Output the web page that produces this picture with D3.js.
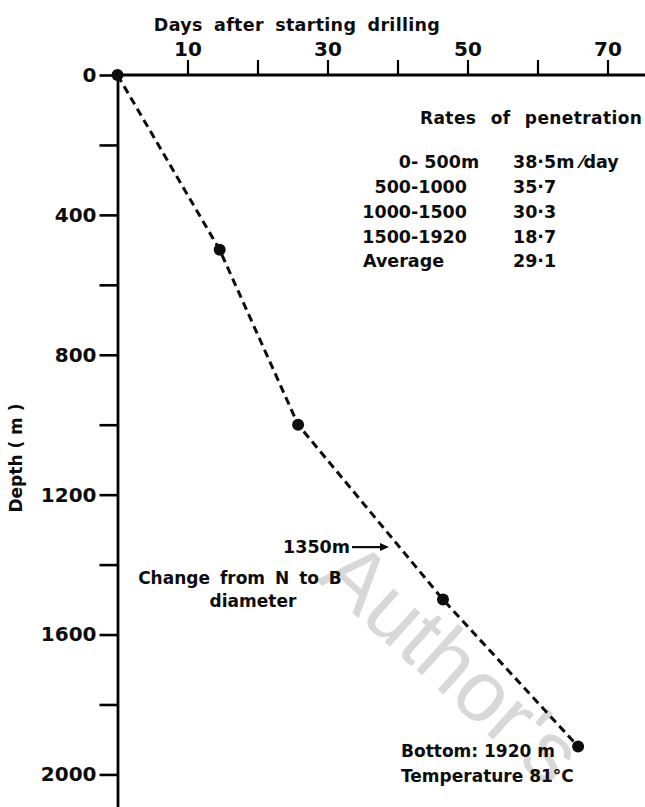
<!DOCTYPE html>
<html>
<head>
<meta charset="utf-8">
<script src="https://cdn.jsdelivr.net/npm/d3@7"></script>
<style>
	body {margin:0; background:#fff;}
	svg text {font-family:"DejaVu Sans", sans-serif; font-weight:bold; fill:#0d0d0d;}
</style>
</head>
<body>
<svg id="chart" width="645" height="807"></svg>
<script>
//data
var days = [0, 14.6, 25.8, 46.5, 65.8];
var depths = [0, 500, 1000, 1500, 1920];
var dayTicks = [10, 20, 30, 40, 50, 60, 70];
var dayLabels = [10, 30, 50, 70];
var depthTicks = [0, 200, 400, 600, 800, 1000, 1200, 1400, 1600, 1800, 2000];
var depthLabels = [0, 400, 800, 1200, 1600, 2000];
var rateRanges = ["0- 500m", "500-1000", "1000-1500", "1500-1920", "Average"];
var rateValues = ["38·5m ⁄day", "35·7", "30·3", "18·7", "29·1"];
var changeDepth = 1350;

var svg = d3.select("#chart");

//scales
var x = d3.scaleLinear().domain([0, 75]).range([117.5, 642.5]);
var y = d3.scaleLinear().domain([0, 2100]).range([75, 809.4]);

//watermark behind everything
svg.append("text")
	.attr("transform", "translate(316,580) rotate(42)")
	.style("font-family", "'Liberation Sans', sans-serif")
	.style("font-weight", "normal")
	.style("font-size", "86px")
	.style("fill", "#d8d8d8")
	.text("Author's");

//top axis (days)
var xAxis = d3.axisTop(x)
	.tickValues(dayTicks)
	.tickSize(15)
	.tickSizeOuter(0)
	.tickPadding(4)
	.tickFormat(function(d) { return dayLabels.indexOf(d) >= 0 ? d : ""; });

var gx = svg.append("g")
	.attr("transform", "translate(0," + y(0) + ")")
	.call(xAxis);
gx.select(".domain").attr("d", "M" + x(0) + ",0H645").attr("stroke-width", 2.8);
gx.selectAll(".tick line").attr("stroke-width", 2.2);
gx.selectAll(".tick text").style("font-size", "20px").attr("fill", "#0d0d0d");

//left axis (depth)
var yAxis = d3.axisLeft(y)
	.tickValues(depthTicks)
	.tickSize(18)
	.tickSizeOuter(0)
	.tickPadding(3)
	.tickFormat(function(d) { return depthLabels.indexOf(d) >= 0 ? d : ""; });

var gy = svg.append("g")
	.attr("transform", "translate(" + x(0) + ",0)")
	.call(yAxis);
gy.select(".domain").attr("stroke-width", 2.8);
gy.selectAll(".tick line").attr("stroke-width", 2.6);
gy.selectAll(".tick text").style("font-size", "20px").attr("fill", "#0d0d0d");

//axis titles
svg.append("text")
	.attr("x", 297).attr("y", 31)
	.attr("text-anchor", "middle")
	.style("font-size", "17.5px")
	.style("word-spacing", "5px")
	.style("letter-spacing", "0.3px")
	.text("Days after starting drilling");

svg.append("text")
	.attr("transform", "translate(22,458) rotate(-90)")
	.attr("text-anchor", "middle")
	.style("font-size", "17px")
	.text("Depth ( m )");

//dashed drilling progress line
var pts = days.map(function(d, i) { return [d, depths[i]]; });
var line = d3.line()
	.x(function(d) { return x(d[0]); })
	.y(function(d) { return y(d[1]); });

svg.append("path")
	.datum(pts)
	.attr("d", line)
	.attr("fill", "none")
	.attr("stroke", "#0d0d0d")
	.attr("stroke-width", 3)
	.attr("stroke-dasharray", "8,5");

svg.selectAll("circle.pt")
	.data(pts)
	.enter().append("circle")
	.attr("class", "pt")
	.attr("cx", function(d) { return x(d[0]); })
	.attr("cy", function(d) { return y(d[1]); })
	.attr("r", 6)
	.attr("fill", "#0d0d0d");

//rates of penetration table
svg.append("text")
	.attr("x", 420).attr("y", 124)
	.style("font-size", "17px")
	.style("word-spacing", "8px")
	.style("letter-spacing", "0.4px")
	.text("Rates of penetration");

var rowY = [168, 193, 218, 243, 267];
var hyphenX = 411;
rateRanges.forEach(function(r, i) {
	var k = r.indexOf("-");
	if (k < 0) {
		svg.append("text").attr("x", 363).attr("y", rowY[i])
			.style("font-size", "17.5px").text(r);
		return;
	}
	//align ranges on the hyphen
	svg.append("text").attr("x", hyphenX).attr("y", rowY[i])
		.attr("text-anchor", "end")
		.style("font-size", "17.5px").text(r.slice(0, k));
	svg.append("text").attr("x", hyphenX).attr("y", rowY[i])
		.style("font-size", "17.5px").text(r.slice(k));
});
rateValues.forEach(function(v, i) {
	svg.append("text").attr("x", 513).attr("y", rowY[i])
		.style("font-size", "17.5px").text(v);
});

//change of diameter annotation
var cy = y(changeDepth);
svg.append("text")
	.attr("x", 350).attr("y", cy + 6)
	.attr("text-anchor", "end")
	.style("font-size", "17.5px")
	.text("1350m");
svg.append("line")
	.attr("x1", 352).attr("x2", 380)
	.attr("y1", cy).attr("y2", cy)
	.attr("stroke", "#0d0d0d").attr("stroke-width", 2.2);
svg.append("path")
	.attr("d", "M380," + (cy - 4) + "L389," + cy + "L380," + (cy + 4) + "Z")
	.attr("fill", "#0d0d0d");

svg.append("text")
	.attr("x", 240).attr("y", 584)
	.attr("text-anchor", "middle")
	.style("font-size", "17px")
	.style("word-spacing", "4px")
	.text("Change from N to B");
svg.append("text")
	.attr("x", 253).attr("y", 607)
	.attr("text-anchor", "middle")
	.style("font-size", "17px")
	.text("diameter");

//bottom annotation
svg.append("text")
	.attr("x", 401).attr("y", 757)
	.style("font-size", "17px")
	.text("Bottom: 1920 m");
svg.append("text")
	.attr("x", 401).attr("y", 782)
	.style("font-size", "17px")
	.text("Temperature 81°C");
</script>
</body>
</html>
